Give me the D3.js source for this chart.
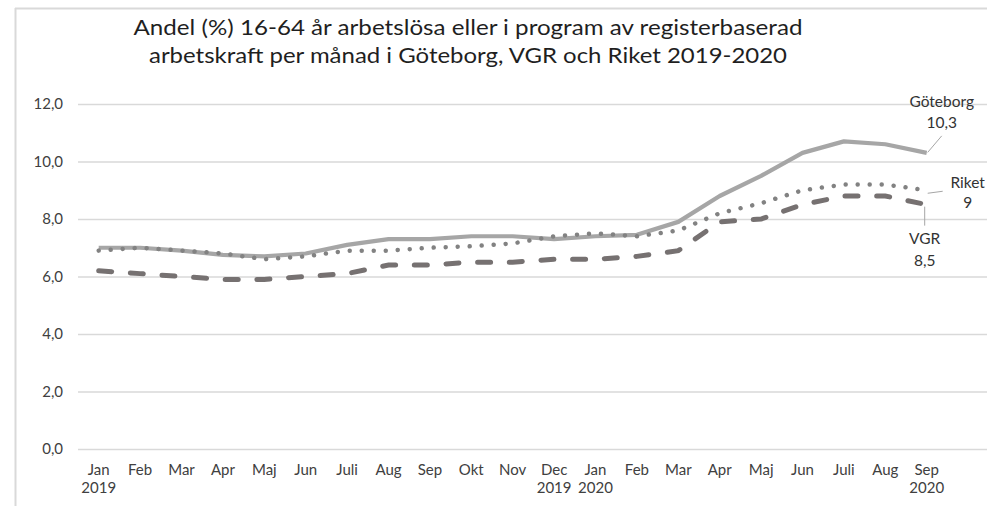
<!DOCTYPE html>
<html>
<head>
<meta charset="utf-8">
<script src="https://cdn.jsdelivr.net/npm/d3@7"></script>
<style>
  html, body { margin: 0; padding: 0; background: #fff; }
  svg { display: block; }
  text { font-family: Lato, "Open Sans", "Noto Sans", sans-serif; }
</style>
</head>
<body>
<svg id="chart" width="987" height="506"></svg>
<script>
// ---- Data ----
const months = ["Jan","Feb","Mar","Apr","Maj","Jun","Juli","Aug","Sep","Okt","Nov","Dec",
                "Jan","Feb","Mar","Apr","Maj","Jun","Juli","Aug","Sep"];
const yearLabels = ["2019","","","","","","","","","","","2019",
                    "2020","","","","","","","","2020"];
const goteborg = [7.0,7.0,6.9,6.75,6.7,6.8,7.1,7.3,7.3,7.4,7.4,7.3,
                  7.4,7.45,7.9,8.8,9.5,10.3,10.7,10.6,10.3];
const riket    = [6.9,7.0,6.9,6.8,6.6,6.7,6.9,6.9,7.0,7.05,7.15,7.4,
                  7.5,7.4,7.6,8.2,8.55,9.0,9.2,9.2,9.0];
const vgr      = [6.2,6.1,6.0,5.9,5.9,6.0,6.1,6.4,6.4,6.5,6.5,6.6,
                  6.6,6.7,6.9,7.9,8.0,8.5,8.8,8.8,8.5];
const yTicks = [0,2,4,6,8,10,12];
const titleLines = ["Andel (%) 16-64 år arbetslösa eller i program av registerbaserad",
                    "arbetskraft per månad i Göteborg, VGR och Riket 2019-2020"];

// ---- Setup ----
const svg = d3.select("#chart");
const W = 987, H = 506;
svg.append("rect").attr("width", W).attr("height", H).attr("fill", "#fff");

// outer border (partially visible)
svg.append("line").attr("x1", 15.5).attr("x2", 15.5).attr("y1", 8).attr("y2", H)
  .attr("stroke", "#d9d9d9").attr("stroke-width", 2);
svg.append("line").attr("x1", 15).attr("x2", W).attr("y1", 8.5).attr("y2", 8.5)
  .attr("stroke", "#d9d9d9").attr("stroke-width", 2);

const idx = months.map((m, i) => i);
const x = d3.scaleBand().domain(idx).range([78, 78 + 41.4 * months.length]);
const xc = i => x(i) + x.bandwidth() / 2;
const y = d3.scaleLinear().domain([0, 12]).range([449, 104]);
const plotRight = 989;

const fmt = v => d3.format(".1f")(v).replace(".", ",");
const fmtVal = v => String(v).replace(".", ",");
const labelFont = "Lato, 'Open Sans', sans-serif";

// Title
const title = svg.append("g");
const titleLen = [669, 638];
titleLines.forEach((t, i) => {
  title.append("text")
    .attr("x", 468).attr("y", 35 + i * 28)
    .attr("text-anchor", "middle")
    .attr("font-size", 21.5)
    .attr("fill", "#1f1f1f")
    .attr("textLength", titleLen[i])
    .attr("lengthAdjust", "spacingAndGlyphs")
    .text(t);
});

// Gridlines + y axis
const yAxis = d3.axisLeft(y).tickValues(yTicks).tickFormat(fmt)
  .tickSize(-(plotRight - 78)).tickPadding(15);
const gy = svg.append("g").attr("transform", "translate(78,0)").call(yAxis);
gy.select(".domain").remove();
gy.selectAll(".tick line").attr("stroke", "#d9d9d9").attr("stroke-width", 1.5);
gy.selectAll(".tick text").attr("font-size", 15).attr("fill", "#404040")
  .attr("font-family", labelFont);

// X axis
const xAxis = d3.axisBottom(x).tickFormat(i => months[i]).tickSize(0).tickPadding(0);
const gx = svg.append("g").attr("transform", "translate(0,449)").call(xAxis);
gx.select(".domain").remove();
gx.selectAll(".tick text").attr("font-size", 15).attr("fill", "#404040")
  .attr("font-family", labelFont)
  .attr("dy", null).attr("y", 26);
gx.selectAll(".tick").append("text")
  .attr("y", 44).attr("text-anchor", "middle")
  .attr("font-size", 15).attr("fill", "#404040")
  .attr("font-family", labelFont)
  .text(i => yearLabels[i]);

// Lines
const line = d3.line().x((d, i) => xc(i)).y(d => y(d));
svg.append("path").datum(goteborg).attr("d", line)
  .attr("fill", "none").attr("stroke", "#a6a6a6").attr("stroke-width", 4.2)
  .attr("stroke-linejoin", "round");
svg.append("path").datum(riket).attr("d", line)
  .attr("fill", "none").attr("stroke", "#828282").attr("stroke-width", 4.5)
  .attr("stroke-linecap", "round").attr("stroke-dasharray", "0.01 12");
svg.append("path").datum(vgr).attr("d", line)
  .attr("fill", "none").attr("stroke", "#767171").attr("stroke-width", 5)
  .attr("stroke-linecap", "round").attr("stroke-dasharray", "13 18.7");

// Data labels with leader lines
const last = months.length - 1;
const lx = xc(last);
const labels = [
  { name: "Göteborg", value: goteborg[last], tx: lx + 15, ty1: y(goteborg[last]) - 46, ty2: y(goteborg[last]) - 25,
    l: [[lx + 15, y(goteborg[last]) - 17], [lx + 1, y(goteborg[last]) - 0.5]] },
  { name: "Riket", value: riket[last], tx: lx + 41, ty1: y(riket[last]) - 2, ty2: y(riket[last]) + 18,
    l: [[lx + 1, y(riket[last]) + 3], [lx + 16, y(riket[last]) + 1]] },
  { name: "VGR", value: vgr[last], tx: lx - 2, ty1: y(vgr[last]) + 39, ty2: y(vgr[last]) + 61,
    l: [[lx - 2, y(vgr[last]) + 2], [lx - 2, y(vgr[last]) + 21]] }
];
const lg = svg.append("g");
labels.forEach(d => {
  lg.append("line").attr("x1", d.l[0][0]).attr("y1", d.l[0][1])
    .attr("x2", d.l[1][0]).attr("y2", d.l[1][1])
    .attr("stroke", "#a6a6a6").attr("stroke-width", 1);
  lg.append("text").attr("x", d.tx).attr("y", d.ty1).attr("text-anchor", "middle")
    .attr("font-size", 15.5).attr("fill", "#333").text(d.name);
  lg.append("text").attr("x", d.tx).attr("y", d.ty2).attr("text-anchor", "middle")
    .attr("font-size", 15.5).attr("fill", "#333").text(fmtVal(d.value));
});
</script>
</body>
</html>
